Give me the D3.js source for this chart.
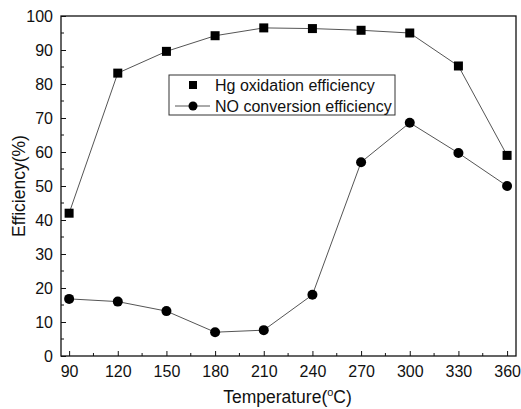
<!DOCTYPE html>
<html>
<head>
<meta charset="utf-8">
<script src="https://cdn.jsdelivr.net/npm/d3@7"></script>
<style>
  body { margin: 0; background: #fff; }
  text { font-family: "Liberation Sans", Arial, sans-serif; fill: #111; }
</style>
</head>
<body>
<div id="chart"></div>
<script>
// Temperatures (deg C) and efficiencies (%)
var temperatures = [90, 120, 150, 180, 210, 240, 270, 300, 330, 360];
var hgOxidation = [42, 83.2, 89.6, 94.2, 96.5, 96.3, 95.8, 95, 85.3, 59];
var noConversion = [16.8, 16, 13.2, 7, 7.6, 18, 57, 68.6, 59.7, 50];
var xTicks = [90, 120, 150, 180, 210, 240, 270, 300, 330, 360];
var yTicks = [0, 10, 20, 30, 40, 50, 60, 70, 80, 90, 100];
var seriesNames = ["Hg oxidation efficiency", "NO conversion efficiency"];

var margin = {top: 16, right: 5, bottom: 53, left: 61};
var width = 521 - margin.left - margin.right;
var height = 409 - margin.top - margin.bottom;

var svg = d3.select("#chart").append("svg")
    .attr("width", 521)
    .attr("height", 409)
    .append("g")
    .attr("transform", "translate(" + margin.left + "," + margin.top + ")");

var x = d3.scaleLinear().domain([85, 365.5]).range([0, width]);
var y = d3.scaleLinear().domain([0, 100]).range([height, 0]);

// minor ticks
var xMinor = d3.range(105, 365, 30);
var yMinor = d3.range(5, 100, 10);

svg.append("g").selectAll("line")
    .data(xMinor)
    .enter().append("line")
    .attr("x1", function(d) { return x(d); })
    .attr("x2", function(d) { return x(d); })
    .attr("y1", height)
    .attr("y2", height - 3)
    .attr("stroke", "#111");

svg.append("g").selectAll("line")
    .data(yMinor)
    .enter().append("line")
    .attr("x1", 0)
    .attr("x2", 3)
    .attr("y1", function(d) { return y(d); })
    .attr("y2", function(d) { return y(d); })
    .attr("stroke", "#111");

var xAxis = d3.axisBottom(x).tickValues(xTicks).tickSizeInner(-5).tickSizeOuter(0).tickPadding(10);
var yAxis = d3.axisLeft(y).tickValues(yTicks).tickSizeInner(-5).tickSizeOuter(0).tickPadding(8);

var gx = svg.append("g")
    .attr("transform", "translate(0," + height + ")")
    .call(xAxis);
var gy = svg.append("g").call(yAxis);

[gx, gy].forEach(function(g) {
    g.select(".domain").remove();
    g.selectAll(".tick line").attr("stroke", "#111");
    g.selectAll(".tick text")
        .style("font-family", "Liberation Sans, Arial, sans-serif")
        .style("font-size", "16px")
        .attr("fill", "#111");
});
gy.selectAll(".tick text").attr("dy", "0.35em");

// frame
svg.append("rect")
    .attr("width", width)
    .attr("height", height)
    .attr("fill", "none")
    .attr("stroke", "#111")
    .attr("stroke-width", 1.3);

var line = d3.line()
    .x(function(d, i) { return x(temperatures[i]); })
    .y(function(d) { return y(d); });

[hgOxidation, noConversion].forEach(function(series) {
    svg.append("path")
        .attr("d", line(series))
        .attr("fill", "none")
        .attr("stroke", "#555")
        .attr("stroke-width", 1);
});

svg.append("g").selectAll("rect")
    .data(hgOxidation)
    .enter().append("rect")
    .attr("x", function(d, i) { return x(temperatures[i]) - 4.5; })
    .attr("y", function(d) { return y(d) - 4.5; })
    .attr("width", 9)
    .attr("height", 9)
    .attr("fill", "#000");

svg.append("g").selectAll("circle")
    .data(noConversion)
    .enter().append("circle")
    .attr("cx", function(d, i) { return x(temperatures[i]); })
    .attr("cy", function(d) { return y(d); })
    .attr("r", 5)
    .attr("fill", "#000");

// legend
var legend = svg.append("g").attr("transform", "translate(108,59)");
legend.append("rect")
    .attr("width", 226)
    .attr("height", 40)
    .attr("fill", "#fff")
    .attr("stroke", "#333")
    .attr("stroke-width", 1);
legend.append("rect")
    .attr("x", 20).attr("y", 6)
    .attr("width", 8).attr("height", 8)
    .attr("fill", "#000");
legend.append("line")
    .attr("x1", 6).attr("x2", 41)
    .attr("y1", 31).attr("y2", 31)
    .attr("stroke", "#555");
legend.append("circle")
    .attr("cx", 24).attr("cy", 31).attr("r", 4.5)
    .attr("fill", "#000");
legend.selectAll("text.leg")
    .data(seriesNames)
    .enter().append("text")
    .attr("class", "leg")
    .attr("x", 46)
    .attr("y", function(d, i) { return 10 + i * 21; })
    .attr("dy", "0.35em")
    .style("font-size", "16px")
    .text(function(d) { return d; });

// axis titles
var xt = svg.append("text")
    .attr("x", width / 2 - 1)
    .attr("y", height + 47)
    .attr("text-anchor", "middle")
    .style("font-size", "17.5px");
xt.append("tspan").text("Temperature(");
xt.append("tspan").attr("dy", -7).style("font-size", "11px").text("o");
xt.append("tspan").attr("dy", 7).text("C)");

svg.append("text")
    .attr("transform", "translate(-36," + (height / 2) + ") rotate(-90)")
    .attr("text-anchor", "middle")
    .style("font-size", "17.5px")
    .text("Efficiency(%)");
</script>
</body>
</html>
